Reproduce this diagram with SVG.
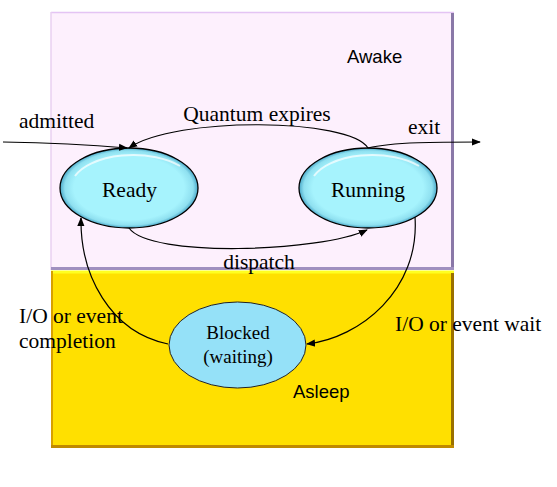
<svg xmlns="http://www.w3.org/2000/svg" width="557" height="487" viewBox="0 0 557 487">
<defs>
<radialGradient id="bev" cx="0.5" cy="0.5" r="0.5">
<stop offset="0.8" stop-color="#a6f3fd"/>
<stop offset="0.93" stop-color="#8fe0f0"/>
<stop offset="1" stop-color="#4aa8c8"/>
</radialGradient>
<marker id="ah" viewBox="0 0 10 10" refX="9" refY="5" markerWidth="9" markerHeight="9" markerUnits="userSpaceOnUse" orient="auto">
<path d="M0,1 L10,5 L0,9 Z" fill="#000"/>
</marker>
<style>
.t{font-family:"Liberation Serif","Times New Roman",serif;font-size:21.5px;fill:#000}
.s{font-family:"Liberation Sans",Arial,sans-serif;font-size:18.5px;fill:#000}
.e{fill:url(#bev);stroke:#000;stroke-width:1.3}
.c{fill:none;stroke:#000;stroke-width:1.2}
</style>
</defs>
<g id="awake">
<rect x="51" y="12" width="403" height="258" fill="#fdf0fd"/>
<path d="M51,12.5 H454" stroke="#e4c4f4" stroke-width="1.5"/>
<path d="M51,12 V270" stroke="#e8d0f0" stroke-width="1.5"/>
<path d="M452.5,13 V270" stroke="#8a78a8" stroke-width="3"/>
<path d="M51,268.5 H454" stroke="#a090c0" stroke-width="3"/>
<text class="s" x="347" y="63">Awake</text>
</g>
<g id="asleep">
<rect x="51" y="271" width="403" height="177" fill="#ffe000"/>
<path d="M51,272 H454" stroke="#ffff20" stroke-width="3"/>
<path d="M52,271 V448" stroke="#d8a000" stroke-width="2"/>
<path d="M452.5,273 V448" stroke="#9a7000" stroke-width="3"/>
<path d="M51,446.5 H454" stroke="#c08a00" stroke-width="3"/>
<text class="s" x="293" y="398">Asleep</text>
</g>
<g id="ready">
<ellipse class="e" cx="129" cy="188" rx="69" ry="40"/>
<path d="M75,176 A62,32 0 0 1 180,166" fill="none" stroke="#ffffff" stroke-width="2" stroke-opacity="0.7"/>
<text class="t" x="129.5" y="197" text-anchor="middle">Ready</text>
</g>
<g id="running">
<ellipse class="e" cx="368" cy="188" rx="69" ry="40"/>
<path d="M314,176 A62,32 0 0 1 419,166" fill="none" stroke="#ffffff" stroke-width="2" stroke-opacity="0.7"/>
<text class="t" x="368" y="197" text-anchor="middle">Running</text>
</g>
<g id="blocked">
<ellipse cx="237.5" cy="345" rx="68.5" ry="43" fill="#95e1f8" stroke="#222" stroke-width="1"/>
<text class="t" x="238" y="339" text-anchor="middle" style="font-size:19px">Blocked</text>
<text class="t" x="238" y="363" text-anchor="middle" style="font-size:19px">(waiting)</text>
</g>
<g id="connectors">
<path class="c" d="M3,142 Q70,143 127,148" marker-end="url(#ah)"/>
<path class="c" d="M368,148 C350,118 175,116 129,148" marker-end="url(#ah)"/>
<path class="c" d="M368,148 C392,142 440,142 480,142" marker-end="url(#ah)"/>
<path class="c" d="M129,228 C150,258 320,252 367,230" marker-end="url(#ah)"/>
<path class="c" d="M168,344 C110,332 80,275 81,218" marker-end="url(#ah)"/>
<path class="c" d="M415,217 C420,290 360,338 307,344" marker-end="url(#ah)"/>
</g>
<g id="labels">
<text class="t" x="19" y="128">admitted</text>
<text class="t" x="257" y="121" text-anchor="middle">Quantum expires</text>
<text class="t" x="408" y="134">exit</text>
<text class="t" x="259" y="269" text-anchor="middle">dispatch</text>
<text class="t" x="19" y="323">I/O or event</text>
<text class="t" x="19" y="348">completion</text>
<text class="t" x="395" y="331">I/O or event wait</text>
</g>
</svg>
